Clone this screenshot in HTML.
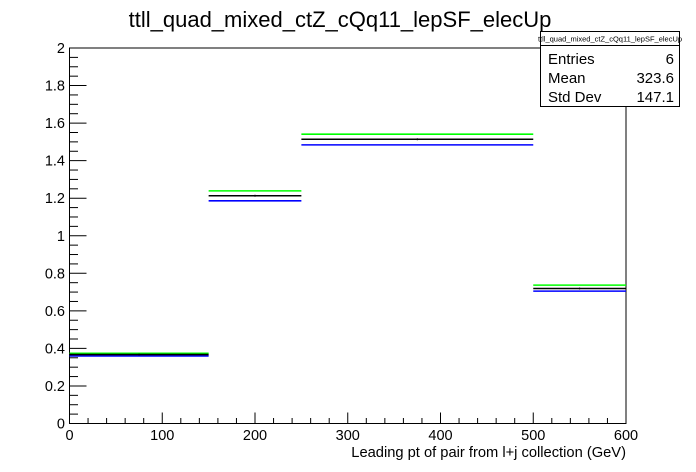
<!DOCTYPE html>
<html><head><meta charset="utf-8"><style>
body{margin:0;background:#fff;}
svg{display:block;font-family:"Liberation Sans",Arial,sans-serif;}
</style></head><body>
<svg id="c" width="696" height="472" viewBox="0 0 696 472">
<rect width="696" height="472" fill="#fff"/>
<text x="340" y="27" font-size="22" text-anchor="middle">ttll_quad_mixed_ctZ_cQq11_lepSF_elecUp</text>
<rect x="69.5" y="48" width="556.5" height="375.5" fill="none" stroke="#000" stroke-width="1"/>
<g id="axes"></g>
<g id="series"></g>
<text x="626" y="457" font-size="14.7" text-anchor="end">Leading pt of pair from l+j collection (GeV)</text>
<g>
<rect x="540.5" y="31.5" width="139" height="75" fill="#fff" stroke="#000"/>
<line x1="540.5" y1="45.5" x2="679.5" y2="45.5" stroke="#000"/>
<text x="610" y="41.5" font-size="7.5" text-anchor="middle">ttll_quad_mixed_ctZ_cQq11_lepSF_elecUp</text>
<text x="548" y="64" font-size="15">Entries</text>
<text x="674" y="64" font-size="15" text-anchor="end">6</text>
<text x="548" y="83" font-size="15">Mean</text>
<text x="674" y="83" font-size="15" text-anchor="end">323.6</text>
<text x="548" y="102" font-size="15">Std Dev</text>
<text x="674" y="102" font-size="15" text-anchor="end">147.1</text>
</g>
</svg>
<script>
const binEdges=[0,150,250,500,600];
const nominal=[0.367,1.213,1.514,0.719];
const upVals=[0.374,1.239,1.541,0.737];
const downVals=[0.360,1.186,1.484,0.705];
const xTicks=[0,100,200,300,400,500,600];
const yTicks=[0,0.2,0.4,0.6,0.8,1,1.2,1.4,1.6,1.8,2];
const NS="http://www.w3.org/2000/svg";
const X0=69.5,X1=626,Y0=423.5,Y1=48;
function sx(v){return X0+(v-0)/(600-0)*(X1-X0);}
function sy(v){return Y0-(v-0)/(2-0)*(Y0-Y1);}
function mk(t,a,p){const e=document.createElementNS(NS,t);for(const k in a)e.setAttribute(k,a[k]);p.appendChild(e);return e;}
const ax=document.getElementById('axes');
for(let v=0;v<=600.001;v+=20){const maj=Math.abs(v/100-Math.round(v/100))<1e-6;
const l=mk('line',{x1:sx(v),x2:sx(v),y1:Y0,y2:Y0-(maj?11:5.5),stroke:'#000'},ax);

}
for(let v=0;v<=2.0001;v+=0.05){const maj=Math.abs(v/0.2-Math.round(v/0.2))<1e-6;
const l=mk('line',{x1:X0,x2:X0+(maj?17:8.5),y1:sy(v),y2:sy(v),stroke:'#000'},ax);

}
xTicks.forEach(v=>{const t=mk('text',{x:sx(v),y:440,'font-size':14.5,'text-anchor':'middle'},ax);t.textContent=String(v);

});
yTicks.forEach(v=>{const t=mk('text',{x:65,y:sy(v)+5,'font-size':14.5,'text-anchor':'end'},ax);t.textContent=String(Math.round(v*10)/10);

});
const sr=document.getElementById('series');
function draw(vals,color,name){for(let i=0;i<vals.length;i++){
const l=mk('line',{x1:sx(binEdges[i]),x2:sx(binEdges[i+1]),y1:sy(vals[i]),y2:sy(vals[i]),stroke:color,'stroke-width':1.6},sr);

}}
draw(upVals,'#00ff00','up');
draw(downVals,'#0000ff','down');
draw(nominal,'#000000','nominal');
for(let i=0;i<nominal.length;i++){const c=(binEdges[i]+binEdges[i+1])/2;
const m=mk('line',{x1:sx(c),x2:sx(c),y1:sy(nominal[i])-1,y2:sy(nominal[i])+1,stroke:'#000'},sr);

}
</script>
</body></html>
